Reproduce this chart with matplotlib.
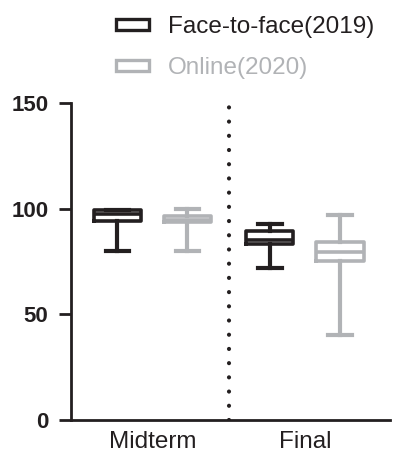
import matplotlib
matplotlib.use("Agg")
import matplotlib.pyplot as plt
from matplotlib.patches import Patch

plt.rcParams['font.family'] = ['Liberation Sans', 'DejaVu Sans']

# exam scores per group
groups = ['Midterm', 'Final']
labels = ['Face-to-face(2019)', 'Online(2020)']

f2f_min = [80, 72]
f2f_q1 = [94, 83]
f2f_med = [97.5, 85]
f2f_q3 = [99.5, 89.5]
f2f_max = [99.5, 92.5]

onl_min = [80, 40]
onl_q1 = [93.5, 75]
onl_med = [94.5, 79.5]
onl_q3 = [96.5, 84]
onl_max = [100, 97]

yticks = [0, 50, 100, 150]

BLACK = '#231f20'
GRAY = '#b1b3b6'


def make_stats(mins, q1s, meds, q3s, maxs):
    return [dict(whislo=a, q1=b, med=c, q3=d, whishi=e, fliers=[])
            for a, b, c, d, e in zip(mins, q1s, meds, q3s, maxs)]


def style(color, lw=2.6):
    return dict(
        boxprops=dict(color=color, linewidth=lw),
        medianprops=dict(color=color, linewidth=lw),
        whiskerprops=dict(color=color, linewidth=lw + 0.4),
        capprops=dict(color=color, linewidth=lw + 0.4),
    )


fig = plt.figure(figsize=(3.97, 4.59), dpi=100)
ax = fig.add_axes([0.178, 0.085, 0.804, 0.691])

x = list(range(len(groups)))
off = 0.23
w = 0.31

ax.bxp(make_stats(f2f_min, f2f_q1, f2f_med, f2f_q3, f2f_max),
       positions=[i - off for i in x], widths=w, capwidths=w / 2,
       showfliers=False, manage_ticks=False, **style(BLACK))
ax.bxp(make_stats(onl_min, onl_q1, onl_med, onl_q3, onl_max),
       positions=[i + off for i in x], widths=w, capwidths=w / 2,
       showfliers=False, manage_ticks=False, **style(GRAY))

# separator between the two exams
ax.axvline(0.5, color=BLACK, linewidth=3.0,
           linestyle=(0, (0.01, 3.4)), dash_capstyle='round')

ax.set_xlim(-0.536, 1.557)
ax.set_ylim(0, 150)
ax.set_yticks(yticks)
ax.set_yticklabels([str(t) for t in yticks], fontsize=16, fontweight='bold',
                   color=BLACK)
ax.set_xticks(x)
ax.set_xticklabels(groups, fontsize=17.5, color=BLACK)
ax.tick_params(axis='x', length=0, pad=8)
ax.tick_params(axis='y', length=9, width=2, pad=7, color=BLACK)

for s in ['top', 'right']:
    ax.spines[s].set_visible(False)
for s in ['left', 'bottom']:
    ax.spines[s].set_linewidth(2.0)
    ax.spines[s].set_color(BLACK)

handles = [Patch(facecolor='white', edgecolor=BLACK, linewidth=2.4),
           Patch(facecolor='white', edgecolor=GRAY, linewidth=2.4)]
leg = fig.legend(handles, labels, loc='upper left',
                 bbox_to_anchor=(116 / 397, 1 - 16 / 459),
                 frameon=False, fontsize=17.5, handlelength=1.35,
                 handleheight=0.35, handletextpad=0.8, labelspacing=0.8,
                 borderpad=0, borderaxespad=0)
for t, c in zip(leg.get_texts(), [BLACK, GRAY]):
    t.set_color(c)

fig.savefig('out.png', dpi=100)
